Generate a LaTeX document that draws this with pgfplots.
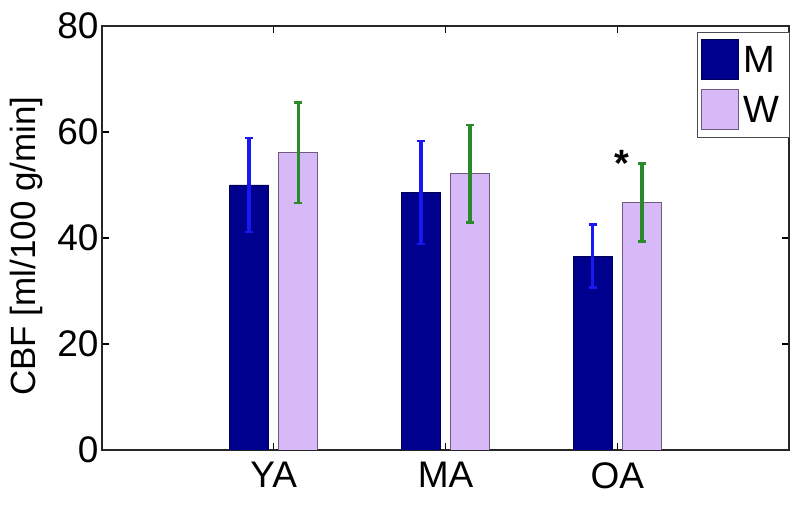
\documentclass[border=0pt]{standalone}
\usepackage{fontspec}
\setmainfont{Liberation Sans}
\usepackage{pgfplots}
\pgfplotsset{compat=1.18}
\definecolor{cM}{HTML}{00008F}
\definecolor{cMedge}{HTML}{000050}
\definecolor{cW}{HTML}{D7B9F7}
\definecolor{cWedge}{HTML}{6E5C7E}
\definecolor{cMerr}{HTML}{1818F0}
\definecolor{cWerr}{HTML}{2A8A2A}
\pgfplotsset{box legend/.style={legend image code/.code={%
  \draw[##1, line width=1pt] (0pt,-20pt) rectangle (37pt,20pt);}}}

\begin{document}
\begin{tikzpicture}
\begin{axis}[
  scale only axis, width=687pt, height=424pt,
  xmin=0, xmax=4, ymin=0, ymax=80,
  xtick={1,2,3}, xticklabels={YA,MA,OA},
  ytick={0,20,40,60,80},
  tick align=inside, major tick length=7pt,
  axis line style={line width=1.8pt, black!85},
  tick style={line width=1.2pt, black},
  tick label style={font=\fontsize{37}{40}\selectfont},
  xticklabel style={yshift=-9pt},
  label style={font=\fontsize{35}{40}\selectfont},
  /pgf/number format/assume math mode=true,
  ylabel={CBF [ml/100 g/min]},
  ylabel style={at={(axis description cs:-0.1106,0.481)}, anchor=center},
  legend style={at={(axis description cs:1,1)}, anchor=north east, xshift=1pt, yshift=-6pt,
                draw=black!70, line width=1pt, inner xsep=3pt, inner ysep=7pt, row sep=9pt,
                font=\fontsize{38}{40}\selectfont},
  legend cell align=left,
]
% bars (x shifted by half a bar gap, 24.5pt / 171.75pt per unit)
\addplot[ybar, bar width=39pt, bar shift=0pt, fill=cM, draw=cMedge, line width=0.8pt, box legend]
  coordinates {(0.857,50.0) (1.857,48.6) (2.857,36.6)};
\addplot[ybar, bar width=39pt, bar shift=0pt, fill=cW, draw=cWedge, line width=0.8pt, box legend]
  coordinates {(1.143,56.1) (2.143,52.1) (3.143,46.7)};
\legend{\kern3pt M\kern5pt,\kern3pt W\kern5pt}
% error bars on top of the bars
\addplot[forget plot, draw=none, mark=none,
  error bars/.cd, y dir=both, y explicit,
  error bar style={draw=cMerr, line width=3.5pt},
  error mark options={rotate=90, draw=cMerr, mark size=4pt, line width=2.5pt}]
  coordinates {(0.857,50.0) +- (0,8.9) (1.857,48.6) +- (0,9.7) (2.857,36.6) +- (0,5.9)};
\addplot[forget plot, draw=none, mark=none,
  error bars/.cd, y dir=both, y explicit,
  error bar style={draw=cWerr, line width=3.5pt},
  error mark options={rotate=90, draw=cWerr, mark size=4pt, line width=2.5pt}]
  coordinates {(1.143,56.1) +- (0,9.5) (2.143,52.1) +- (0,9.2) (3.143,46.7) +- (0,7.4)};
\node[font=\bfseries\fontsize{38}{38}\selectfont] at (axis cs:3.028,54.0) {*};
\end{axis}
\pgfresetboundingbox
\useasboundingbox (-102pt,-55pt) rectangle (698pt,450pt);
\end{tikzpicture}
\end{document}
